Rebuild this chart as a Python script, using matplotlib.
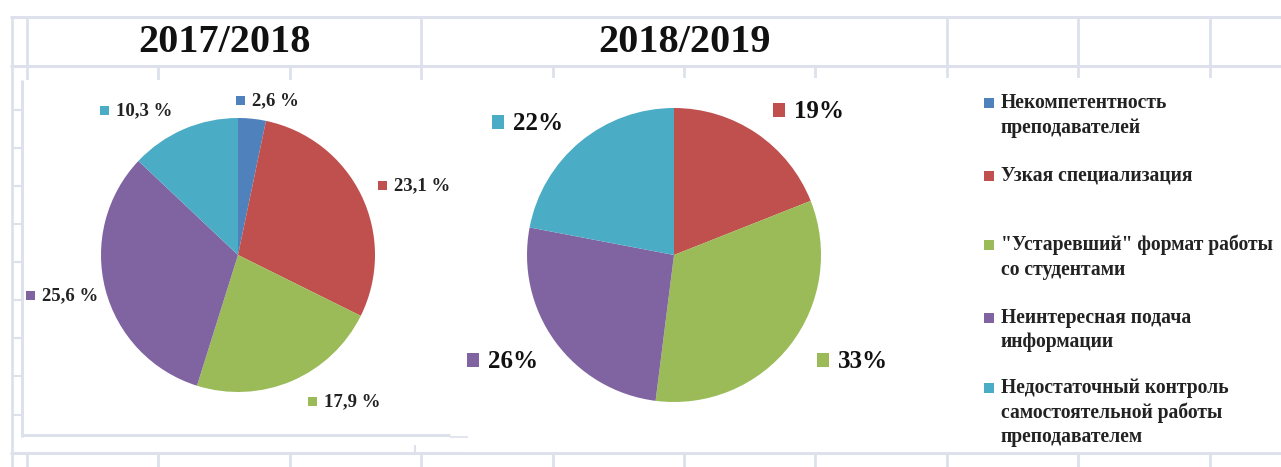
import matplotlib.pyplot as plt
from matplotlib.patches import Rectangle

# --- data ---
categories = ["Некомпетентность\nпреподавателей",
              "Узкая специализация",
              "\"Устаревший\" формат работы\nсо студентами",
              "Неинтересная подача\nинформации",
              "Недостаточный контроль\nсамостоятельной работы\nпреподавателем"]
colors = ['#4F81BD', '#C0504D', '#9BBB59', '#8064A2', '#4BACC6']
years = ['2017/2018', '2018/2019']
values_2017 = [2.6, 23.1, 17.9, 25.6, 10.3]
values_2018 = [0, 19, 33, 26, 22]

# --- layout (pixels of a 1281x467 picture) ---
W, H = 1281, 467
grid_c = '#dde1ec'
serif = 'Liberation Serif'

fig = plt.figure(figsize=(W / 100, H / 100), dpi=100)
bg = fig.add_axes([0, 0, 1, 1])
bg.set_xlim(0, W)
bg.set_ylim(H, 0)
bg.axis('off')

# spreadsheet grid behind the charts
cols = [27, 158, 290, 421, 553, 684, 815, 947, 1078, 1210]
bg.hlines([17, 66, 453], 10, W, color=grid_c, lw=2.2)
bg.vlines(12, 17, H, color=grid_c, lw=2)
bg.vlines([27, 421, 947, 1078, 1210], 17, 66, color=grid_c, lw=2)
bg.vlines(cols, 66, 80, color=grid_c, lw=2)
bg.vlines(cols, 453, H, color=grid_c, lw=2)
bg.vlines([415, 538, 660, 783, 905, 1028, 1150], 445, 453, color=grid_c, lw=1.5)
bg.hlines([110, 148, 186, 224, 262, 300, 338, 376, 415], 12, 22, color=grid_c, lw=1.5)

# chart areas (white) over the grid
bg.add_patch(Rectangle((22, 80), 440, 357, facecolor='white', edgecolor='none', zorder=2))
bg.add_patch(Rectangle((462, 78), W - 462, 374, facecolor='white', edgecolor='none', zorder=2))
bg.vlines(22, 80, 437, color=grid_c, lw=2.2, zorder=3)
bg.hlines(435, 22, 450, color=grid_c, lw=2.2, zorder=3)
bg.hlines(437, 450, 468, color=grid_c, lw=1.2, zorder=3)

# header titles
for name, cx in zip(years, [225, 685]):
    bg.text(cx, 43, name, ha='center', va='center', fontsize=29,
            fontweight='bold', family=serif, color='#111111')


def pie_axes(cx, cy, r):
    ax = fig.add_axes([(cx - r) / W, (H - cy - r) / H, 2 * r / W, 2 * r / H])
    ax.set_zorder(5)
    return ax


# pie 2017/2018
ax1 = pie_axes(238, 255, 137)
ax1.pie(values_2017, colors=colors, startangle=90, counterclock=False,
        wedgeprops=dict(edgecolor='none', linewidth=0))
ax1.set_xlim(-1, 1)
ax1.set_ylim(-1, 1)
ax1.axis('off')

# pie 2018/2019 (first category has no share)
ax2 = pie_axes(674, 255, 147)
ax2.pie(values_2018[1:], colors=colors[1:], startangle=90, counterclock=False,
        wedgeprops=dict(edgecolor='none', linewidth=0))
ax2.set_xlim(-1, 1)
ax2.set_ylim(-1, 1)
ax2.axis('off')

# data labels: square marker + value
lab_pos_2017 = [(240, 100), (382, 185), (312, 401), (30, 295), (104, 110)]
for v, c, (x, y) in zip(values_2017, colors, lab_pos_2017):
    bg.add_patch(Rectangle((x - 4.5, y - 4.5), 9, 9, facecolor=c, edgecolor='none', zorder=4))
    bg.text(x + 12, y + 1, f"{v:.1f} %".replace('.', ','), ha='left', va='center',
            fontsize=13.5, fontweight='bold', family=serif, color='#222222', zorder=4)

lab_pos_2018 = [(779, 110), (823, 360), (473, 360), (498, 122)]
for v, c, (x, y) in zip(values_2018[1:], colors[1:], lab_pos_2018):
    bg.add_patch(Rectangle((x - 6, y - 7), 12, 14, facecolor=c, edgecolor='none', zorder=4))
    bg.text(x + 15, y + 1, f"{v:.0f}%", ha='left', va='center',
            fontsize=18, fontweight='bold', family=serif, color='#111111', zorder=4)

# legend
leg_y = [103, 176, 245, 318, 388]
for name, c, y in zip(categories, colors, leg_y):
    bg.add_patch(Rectangle((984, y - 5), 10, 10, facecolor=c, edgecolor='none', zorder=4))
    for i, line in enumerate(name.split('\n')):
        bg.text(1001, y + i * 24.5, line, ha='left', va='center', fontsize=14.1,
                fontweight='bold', family=serif, color='#222222', zorder=4)

plt.savefig('out.png', dpi=100)
